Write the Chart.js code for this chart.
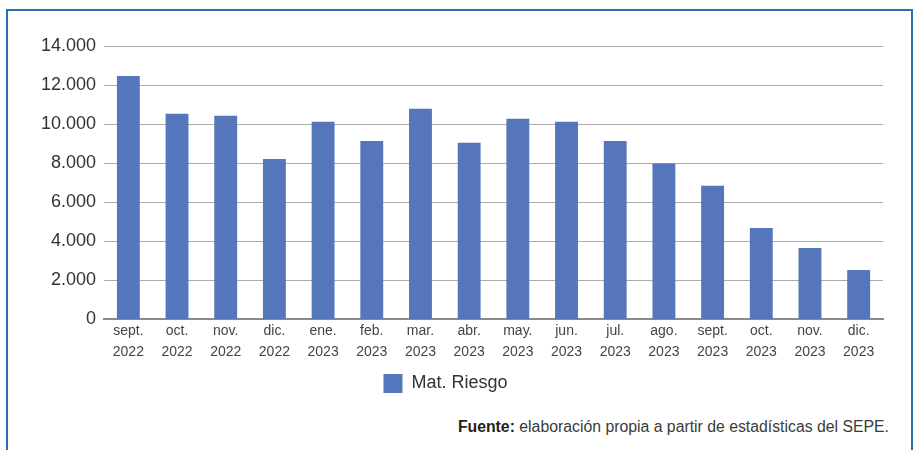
<!DOCTYPE html>
<html>
<head>
<meta charset="utf-8">
<script src="https://cdn.jsdelivr.net/npm/chart.js@4/dist/chart.umd.min.js"></script>
<style>
  html, body { margin: 0; padding: 0; background: #ffffff; }
  body { width: 914px; height: 450px; position: relative; overflow: hidden; font-family: "Liberation Sans", Arial, sans-serif; }
  #wrap { position: absolute; left: 0; top: 0; width: 914px; height: 403px; }
  #frame { position: absolute; left: 6px; top: 9px; width: 903px; height: 460px; border: 2px solid #2e6cb5; border-bottom: none; pointer-events: none; }
  #source { position: absolute; right: 25px; top: 418px; font-size: 15.8px; color: #3a3a3a; white-space: nowrap; }
  #source b { color: #222; }
</style>
</head>
<body>
<div id="frame"></div>
<div id="wrap"><canvas id="c"></canvas></div>
<div id="source"><b>Fuente:</b> elaboración propia a partir de estadísticas del SEPE.</div>
<script>
const months = ["sept.", "oct.", "nov.", "dic.", "ene.", "feb.", "mar.", "abr.", "may.", "jun.", "jul.", "ago.", "sept.", "oct.", "nov.", "dic."];
const years = ["2022", "2022", "2022", "2022", "2023", "2023", "2023", "2023", "2023", "2023", "2023", "2023", "2023", "2023", "2023", "2023"];
const matRiesgo = [12460, 10530, 10430, 8220, 10120, 9140, 10785, 9040, 10270, 10120, 9140, 7980, 6840, 4680, 3660, 2530];
const seriesName = "Mat. Riesgo";
const yTicks = [0, 2000, 4000, 6000, 8000, 10000, 12000, 14000];

const labels = months.map((m, i) => [m, years[i]]);
const fmt = v => v === 0 ? "0" : v.toLocaleString("de-DE");

new Chart(document.getElementById("c"), {
  type: "bar",
  data: {
    labels: labels,
    datasets: [{
      label: seriesName,
      data: matRiesgo,
      backgroundColor: "#5576ba",
      borderWidth: 0,
      categoryPercentage: 1.0,
      barPercentage: 0.47
    }]
  },
  options: {
    responsive: true,
    maintainAspectRatio: false,
    animation: false,
    layout: { padding: { left: 8, right: 31, top: 46, bottom: 0 } },
    plugins: {
      legend: {
        position: "bottom",
        labels: {
          boxWidth: 19, boxHeight: 19,
          color: "#333333",
          font: { family: "'Liberation Sans', Arial, sans-serif", size: 18 },
          padding: 10
        }
      },
      tooltip: { enabled: false },
      title: { display: false }
    },
    scales: {
      x: {
        grid: { display: false, drawTicks: false },
        border: { display: true, color: "#8a8a8a", width: 2 },
        ticks: {
          color: "#444444",
          padding: 2,
          maxRotation: 0,
          autoSkip: false,
          font: { family: "'Liberation Sans', Arial, sans-serif", size: 14, lineHeight: 1.45 }
        }
      },
      y: {
        min: 0, max: 14000,
        afterFit: s => { s.width = 96; },
        afterBuildTicks: s => { s.ticks = yTicks.map(v => ({ value: v })); },
        grid: { color: "#ababab", lineWidth: 1, drawTicks: false },
        border: { display: false },
        ticks: {
          color: "#333333",
          padding: 8,
          callback: v => fmt(v),
          font: { family: "'Liberation Sans', Arial, sans-serif", size: 18 }
        }
      }
    }
  }
});
</script>
</body>
</html>
